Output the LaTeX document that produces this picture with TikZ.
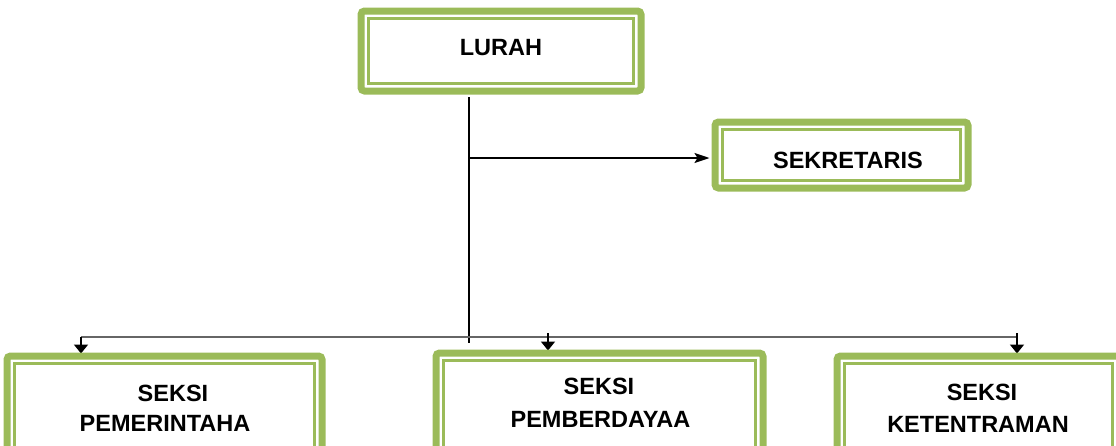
\documentclass[tikz,border=0pt]{standalone}
\usepackage{fontspec}
\setmainfont{Liberation Sans}
\usetikzlibrary{arrows.meta}
\definecolor{olive}{HTML}{9BBB59}
\tikzset{
  unit/.style={draw=olive, line width=7pt, rounded corners=3.5pt, fill=white, inner sep=0pt},
  innerline/.style={draw=olive, line width=2.2pt},
  title/.style={font=\bfseries\fontsize{23.5}{28}\selectfont, anchor=base, inner sep=0pt},
  link/.style={line width=1.7pt, draw=black},
  bus/.style={line width=1.2pt, draw=black!60},
  down/.style={link, -{Triangle[width=14pt,length=9pt]}},
  side/.style={link, -{Stealth[width=10pt,length=15pt,inset=3pt]}},
}
\begin{document}
\begin{tikzpicture}[x=1pt, y=-1pt]
\useasboundingbox (0,0) rectangle (1116,445);
\clip (0,0) rectangle (1116,445);

% junction points of the connectors
\coordinate (t0) at (469,97);
\coordinate (t1) at (469,343);
\coordinate (tj) at (469,158);
\coordinate (bl) at (81,337);
\coordinate (br) at (1017,337);
\coordinate (bm) at (548,333);
\coordinate (bx) at (1017,333);

% unit boxes
\node[unit, minimum width=273pt, minimum height=73pt] (lurah) at (501,51) {};
\node[unit, minimum width=246pt, minimum height=59pt] (sek) at (841.5,155) {};
\node[unit, minimum width=308pt, minimum height=107pt] (b1) at (164.5,413) {};
\node[unit, minimum width=320pt, minimum height=110pt] (b2) at (599.5,411.5) {};
\node[unit, minimum width=276pt, minimum height=107pt] (b3) at (978.5,413) {};

% connectors
\draw[link] (t0) -- (t1);
\draw[side] (tj) -- ([xshift=-5.5pt]sek.west |- tj);
\draw[bus] (bl) -- (br);
\draw[down, shorten >=2.5pt] (bl) -- (bl |- b1.north);
\draw[down, shorten >=2.5pt] (bm) -- (bm |- b2.north);
\draw[down, shorten >=2.5pt] (bx) -- (bx |- b3.north);

% redraw the boxes above the arrow tips
\foreach \n in {lurah,sek,b1,b2,b3}{
  \path[unit] (\n.north west) rectangle (\n.south east);
  \draw[innerline] ([shift={(7.5pt,-7.5pt)}]\n.north west) rectangle ([shift={(-7.5pt,7.5pt)}]\n.south east);
}

% labels
\node[title] (tlurah) at (501,55.5) {LURAH};
\node[title] (tsek) at (848,168) {SEKRETARIS};
\node[title] (t1a) at (173,401) {SEKSI};
\node[title] (t1b) at (165,431.5) {PEMERINTAHA};
\node[title] (t2a) at (599,394) {SEKSI};
\node[title] (t2b) at (600.5,427) {PEMBERDAYAA};
\node[title] (t3a) at (982,400) {SEKSI};
\node[title] (t3b) at (978,432) {KETENTRAMAN};
\end{tikzpicture}
\end{document}
